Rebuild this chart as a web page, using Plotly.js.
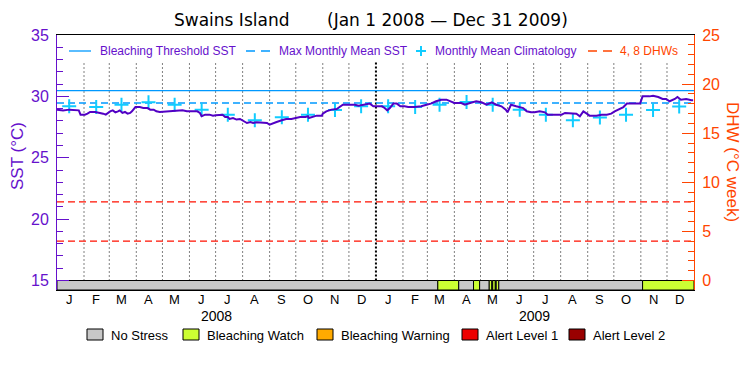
<!DOCTYPE html>
<html><head><meta charset="utf-8">
<script src="https://cdn.plot.ly/plotly-3.0.1.min.js"></script>
<style>html,body{margin:0;padding:0;background:#fff}#chart{width:750px;height:375px}</style>
</head><body><div id="chart"></div>
<script>
// ---- data ----
const sstDates = [
'2008-01-01','2008-01-08','2008-01-15','2008-01-22','2008-01-26','2008-01-28','2008-02-02','2008-02-05','2008-02-08','2008-02-14',
'2008-02-17','2008-02-20','2008-02-23','2008-02-26','2008-02-28','2008-03-02','2008-03-05','2008-03-08','2008-03-11','2008-03-13',
'2008-03-16','2008-03-19','2008-03-22','2008-03-25','2008-03-27','2008-03-29','2008-03-31','2008-04-05','2008-04-09','2008-04-14',
'2008-04-17','2008-04-21','2008-04-24','2008-04-28','2008-05-05','2008-05-12','2008-05-17','2008-05-24','2008-05-29','2008-06-05',
'2008-06-10','2008-06-13','2008-06-15','2008-06-19','2008-06-24','2008-06-28','2008-07-01','2008-07-09','2008-07-12','2008-07-15',
'2008-07-17','2008-07-21','2008-07-25','2008-07-29','2008-08-02','2008-08-06','2008-08-10','2008-08-13','2008-08-17','2008-08-23',
'2008-08-29','2008-09-01','2008-09-05','2008-09-09','2008-09-15','2008-09-20','2008-09-26','2008-10-02','2008-10-06','2008-10-12',
'2008-10-15','2008-10-16','2008-10-19','2008-10-25','2008-10-31','2008-11-01','2008-11-05','2008-11-11','2008-11-17','2008-11-21',
'2008-11-24','2008-11-30','2008-12-08','2008-12-12','2008-12-19','2008-12-25','2008-12-29','2009-01-08','2009-01-11','2009-01-14',
'2009-01-17','2009-01-21','2009-01-25','2009-01-29','2009-02-03','2009-02-07','2009-02-14','2009-02-22','2009-02-28','2009-03-05',
'2009-03-11','2009-03-17','2009-03-23','2009-03-27','2009-04-01','2009-04-09','2009-04-13','2009-04-19','2009-04-26','2009-05-02',
'2009-05-08','2009-05-14','2009-05-19','2009-05-25','2009-05-30','2009-06-01','2009-06-03','2009-06-05','2009-06-11','2009-06-19',
'2009-06-23','2009-06-28','2009-07-02','2009-07-08','2009-07-14','2009-07-17','2009-07-25','2009-08-02','2009-08-06','2009-08-15',
'2009-08-19','2009-08-23','2009-08-27','2009-08-31','2009-09-03','2009-09-11','2009-09-17','2009-09-23','2009-09-28','2009-10-02',
'2009-10-08','2009-10-12','2009-10-16','2009-10-31','2009-11-01','2009-11-03','2009-11-11','2009-11-15','2009-11-21','2009-11-26',
'2009-11-30','2009-12-04','2009-12-10','2009-12-13','2009-12-17','2009-12-23','2009-12-29','2009-12-31'];
const sstValues = [
28.92,28.86,28.92,28.92,28.86,28.51,28.51,28.59,28.73,28.73,
28.70,28.65,28.59,28.51,28.65,28.78,28.86,28.70,28.78,28.86,
28.65,28.73,28.59,28.65,28.78,28.97,29.13,29.13,29.05,29.05,
28.92,28.92,28.78,28.73,28.78,28.78,28.86,28.86,28.78,28.78,
28.78,28.65,28.38,28.51,28.51,28.43,28.47,28.51,28.32,28.32,
28.16,28.24,28.11,28.16,27.98,27.83,27.91,27.83,27.89,27.83,
27.83,27.69,27.83,27.91,28.05,28.16,28.16,28.24,28.32,28.32,
28.38,28.24,28.32,28.43,28.43,28.59,28.78,28.92,28.97,29.19,
29.32,29.32,29.32,29.24,29.32,29.41,29.19,29.19,29.05,28.86,
29.05,29.41,29.41,29.19,29.19,29.13,29.13,29.19,29.32,29.41,
29.60,29.73,29.73,29.60,29.46,29.46,29.32,29.46,29.60,29.52,
29.32,29.52,29.32,29.19,28.92,28.70,29.05,29.32,29.19,29.05,
28.78,28.70,28.70,28.78,28.70,28.51,28.51,28.51,28.65,28.65,
28.59,28.38,28.78,28.59,28.43,28.43,28.51,28.51,28.59,28.78,
28.97,29.13,29.41,29.41,29.60,30.00,30.00,30.05,29.95,29.79,
29.79,29.60,29.79,29.95,29.73,29.79,29.68,29.68];

const climDates = ['2008-01-15','2008-02-15','2008-03-15','2008-04-15','2008-05-15','2008-06-15','2008-07-15','2008-08-15','2008-09-15','2008-10-15','2008-11-15','2008-12-15',
                   '2009-01-15','2009-02-15','2009-03-15','2009-04-15','2009-05-15','2009-06-15','2009-07-15','2009-08-15','2009-09-15','2009-10-15','2009-11-15','2009-12-15'];
const climValues = [29.19,29.13,29.32,29.53,29.32,28.92,28.51,28.05,28.30,28.51,28.88,29.19,
                    29.19,29.13,29.32,29.55,29.32,28.92,28.51,28.05,28.28,28.51,28.88,29.17];

const mmmSST = 29.46;
const thresholdSST = 30.47;
const dhwLevels = [4, 8];
const periodStart = '2008-01-01';
const periodEnd = '2010-01-01';

const monthTickDates = ['2008-01-15','2008-02-15','2008-03-15','2008-04-15','2008-05-15','2008-06-15','2008-07-15','2008-08-15','2008-09-15','2008-10-15','2008-11-15','2008-12-15',
                        '2009-01-15','2009-02-15','2009-03-15','2009-04-15','2009-05-15','2009-06-15','2009-07-15','2009-08-15','2009-09-15','2009-10-15','2009-11-15','2009-12-15'];
const monthTickLabels = ['J','F','M','A','M','J','J','A','S','O','N','D','J','F','M','A','M','J','J','A','S','O','N','D'];
const monthBoundaries = ['2008-02-01','2008-03-01','2008-04-01','2008-05-01','2008-06-01','2008-07-01','2008-08-01','2008-09-01','2008-10-01','2008-11-01','2008-12-01',
                         '2009-01-01','2009-02-01','2009-03-01','2009-04-01','2009-05-01','2009-06-01','2009-07-01','2009-08-01','2009-09-01','2009-10-01','2009-11-01','2009-12-01'];
const yearBoundary = '2009-01-01';
const yearLabels = ['2008','2009'];
const yearCenters = ['2008-07-02','2009-07-02'];

const stressStarts = ['2008-01-01','2009-03-13','2009-04-06','2009-04-23','2009-04-30','2009-05-11','2009-05-14','2009-05-15','2009-05-18','2009-05-19','2009-05-22','2009-11-03'];
const stressEnds   = ['2009-03-13','2009-04-06','2009-04-23','2009-04-30','2009-05-11','2009-05-14','2009-05-15','2009-05-18','2009-05-19','2009-05-22','2009-11-03','2010-01-01'];
const stressLevels = [0,1,0,1,0,1,0,1,0,1,0,1];
const stressNames = ['No Stress','Bleaching Watch','Bleaching Warning','Alert Level 1','Alert Level 2'];
const stressColors = ['#c8c8c8','#ccff33','#ffaa00','#ee0000','#990000'];

const legendNames = ['Bleaching Threshold SST','Max Monthly Mean SST','Monthly Mean Climatology','4, 8 DHWs'];

// ---- styling ----
const PURPLE = '#6611cc';
const LINE = '#5200c4';
const ORANGE = '#ff4500';
const BLUE = '#0099ff';
const CYAN = '#11ccff';
const RED = '#ff1100';
const FONT = 'Liberation Sans, Arial, sans-serif';
const TFONT = 'DejaVu Sans, sans-serif';
const yMin = 14.226, yMax = 35;
const dMin = (yMin - 15) * 1.25, dMax = 25;
const L = 57, R = 694, T = 35, B = 290;
const px = v => (v - L) / (R - L);
const py = v => (B - v) / (B - T);

const ms = d => new Date(d + 'T00:00:00Z').getTime();

const traces = [];
// stress strip
traces.push({
  type: 'bar', x: stressStarts, y: stressStarts.map(() => 15 - yMin), base: yMin,
  width: stressStarts.map((s, i) => ms(stressEnds[i]) - ms(s)), offset: 0,
  marker: {color: stressLevels.map(l => stressColors[l]), line: {color: '#000', width: 1}},
  xaxis: 'x', yaxis: 'y', hoverinfo: 'skip'
});
// DHW lines
dhwLevels.forEach(d => traces.push({
  type: 'scatter', mode: 'lines', x: [periodStart, periodEnd], y: [d, d], yaxis: 'y2',
  line: {color: RED, width: 1.3, dash: '7px,4px'}
}));
// threshold & MMM
traces.push({type: 'scatter', mode: 'lines', x: [periodStart, periodEnd], y: [thresholdSST, thresholdSST], line: {color: BLUE, width: 1.3}});
traces.push({type: 'scatter', mode: 'lines', x: [periodStart, periodEnd], y: [mmmSST, mmmSST], line: {color: BLUE, width: 1.3, dash: '7px,4px'}});
// climatology
traces.push({type: 'scatter', mode: 'markers', x: climDates, y: climValues,
  marker: {symbol: 'cross-thin', size: 10, color: CYAN, line: {color: CYAN, width: 2}}});
// SST
traces.push({type: 'scatter', mode: 'lines', x: sstDates, y: sstValues, line: {color: LINE, width: 2}});

const shapes = [];
monthBoundaries.forEach(d => shapes.push({
  type: 'line', xref: 'x', yref: 'y', x0: d, x1: d, y0: 15, y1: 32.8, layer: 'below',
  line: d === yearBoundary ? {color: '#000', width: 2, dash: '2px,2px'} : {color: '#000', width: 1, dash: '1px,3px'}
}));
// top legend symbols
const ly = py(51);
shapes.push({type: 'line', xref: 'paper', yref: 'paper', x0: px(69), x1: px(91), y0: ly, y1: ly, line: {color: BLUE, width: 1.3}});
shapes.push({type: 'line', xref: 'paper', yref: 'paper', x0: px(246), x1: px(270), y0: ly, y1: ly, line: {color: BLUE, width: 1.3, dash: '9px,6px'}});
shapes.push({type: 'line', xref: 'paper', yref: 'paper', x0: px(416), x1: px(426), y0: ly, y1: ly, line: {color: CYAN, width: 2}});
shapes.push({type: 'line', xref: 'paper', yref: 'paper', x0: px(421), x1: px(421), y0: py(46), y1: py(56), line: {color: CYAN, width: 2}});
shapes.push({type: 'line', xref: 'paper', yref: 'paper', x0: px(588), x1: px(612), y0: ly, y1: ly, line: {color: ORANGE, width: 1.3, dash: '9px,6px'}});

const annotations = [];
annotations.push({xref: 'paper', yref: 'paper', x: px(172), y: py(20), xanchor: 'left', yanchor: 'middle', showarrow: false, text: 'Swains Island', font: {family: TFONT, size: 17, color: '#000'}});
annotations.push({xref: 'paper', yref: 'paper', x: px(325), y: py(20), xanchor: 'left', yanchor: 'middle', showarrow: false, text: '(Jan 1 2008 \u2014 Dec 31 2009)', font: {family: TFONT, size: 17, color: '#000'}});
const legX = [98, 277, 433, 618];
legendNames.forEach((n, i) => annotations.push({xref: 'paper', yref: 'paper', x: px(legX[i]), y: ly, xanchor: 'left', yanchor: 'middle', showarrow: false, text: n,
  font: {size: 12, color: i === 3 ? ORANGE : PURPLE}}));
monthTickDates.forEach((d, i) => annotations.push({xref: 'x', yref: 'paper', x: d, y: py(299), xanchor: 'center', yanchor: 'middle', showarrow: false, text: monthTickLabels[i], font: {size: 13, color: '#000'}}));
yearLabels.forEach((t, i) => annotations.push({xref: 'x', yref: 'paper', x: yearCenters[i], y: py(316), xanchor: 'center', yanchor: 'middle', showarrow: false, text: t, font: {size: 14, color: '#000'}}));
const boxX = [87, 183, 317, 462, 569];
stressNames.forEach((n, i) => {
  shapes.push({type: 'rect', xref: 'paper', yref: 'paper', x0: px(boxX[i]), x1: px(boxX[i] + 16), y0: py(340), y1: py(329), fillcolor: stressColors[i], line: {color: '#000', width: 1}});
  annotations.push({xref: 'paper', yref: 'paper', x: px(boxX[i] + 22), y: py(335), xanchor: 'left', yanchor: 'middle', showarrow: false, text: n, font: {size: 13, color: '#000'}});
});
annotations.push({xref: 'paper', yref: 'paper', x: px(17), y: py(156), xanchor: 'center', yanchor: 'middle', showarrow: false, textangle: -90, text: 'SST (\u00b0C)', font: {size: 17, color: PURPLE}});
annotations.push({xref: 'paper', yref: 'paper', x: px(733), y: py(162), xanchor: 'center', yanchor: 'middle', showarrow: false, textangle: 90, text: 'DHW (\u00b0C week)', font: {size: 17, color: ORANGE}});

const layout = {
  width: 750, height: 375, margin: {l: L, r: 750 - R, t: T, b: 375 - B, pad: 0},
  paper_bgcolor: '#fff', plot_bgcolor: '#fff', showlegend: false,
  font: {family: FONT, color: '#000'},
  xaxis: {type: 'date', range: [periodStart, periodEnd], showgrid: false, zeroline: false, showline: true, linecolor: '#000', linewidth: 1, mirror: true,
    ticks: '', showticklabels: false},
  yaxis: {range: [yMin, yMax], tick0: 15, dtick: 5, ticks: 'inside', ticklen: 12, tickwidth: 1, tickcolor: PURPLE,
    showline: true, linecolor: PURPLE, linewidth: 1, showgrid: false, zeroline: false, tickfont: {size: 16, color: PURPLE}, ticklabelstandoff: 4,
    minor: {dtick: 1, tick0: 15, ticks: 'inside', ticklen: 6, tickwidth: 1, tickcolor: PURPLE, showgrid: false}},
  yaxis2: {overlaying: 'y', side: 'right', range: [dMin, dMax], tick0: 0, dtick: 5, ticks: 'inside', ticklen: 12, tickwidth: 1, tickcolor: ORANGE,
    showline: true, linecolor: ORANGE, linewidth: 1, showgrid: false, zeroline: false, tickfont: {size: 16, color: ORANGE}, ticklabelstandoff: 4,
    minor: {dtick: 1, tick0: 0, ticks: 'inside', ticklen: 6, tickwidth: 1, tickcolor: ORANGE, showgrid: false}},
  shapes: shapes, annotations: annotations, bargap: 0
};
Plotly.newPlot('chart', traces, layout, {staticPlot: true, displayModeBar: false});
</script>
</body></html>
